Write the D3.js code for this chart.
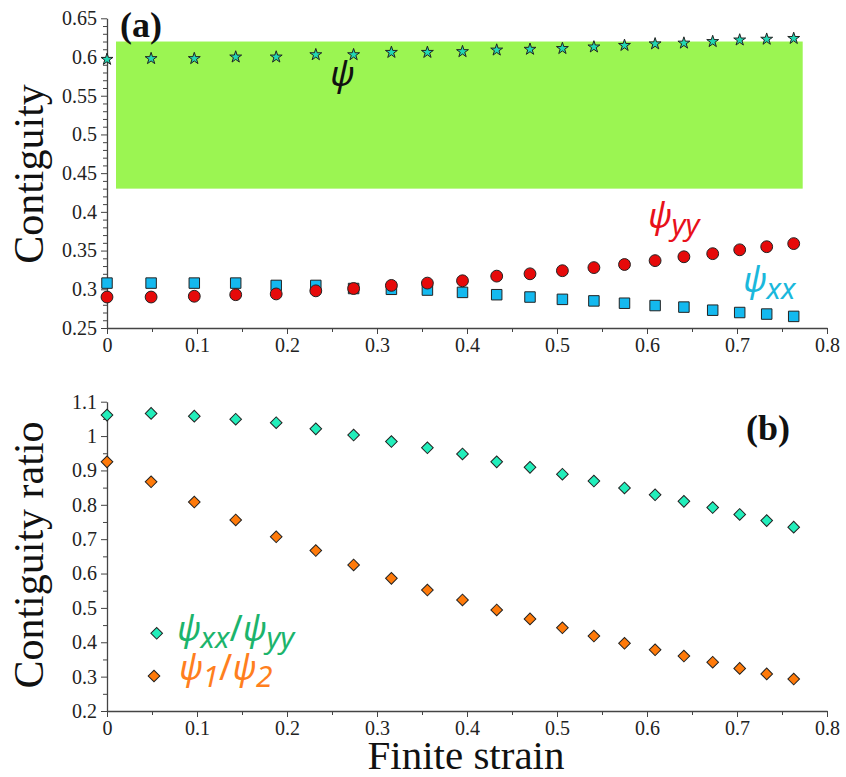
<!DOCTYPE html>
<html><head><meta charset="utf-8">
<script src="https://cdn.jsdelivr.net/npm/d3@7"></script>
<style>body{margin:0;background:#fff}svg{display:block}</style>
</head><body><svg id="c" width="846" height="777"></svg>
<script>
const strain = [0, 0.049, 0.097, 0.143, 0.188, 0.232, 0.274, 0.316, 0.356, 0.395, 0.433, 0.470, 0.506, 0.541, 0.575, 0.609, 0.641, 0.673, 0.703, 0.733, 0.763];
const psi = [0.597,0.598,0.598,0.600,0.600,0.603,0.603,0.606,0.606,0.607,0.609,0.610,0.611,0.613,0.615,0.617,0.618,0.620,0.622,0.623,0.624];
const psiXX = [0.308,0.308,0.308,0.308,0.305,0.305,0.301,0.300,0.299,0.296,0.293,0.290,0.287,0.285,0.282,0.279,0.277,0.273,0.270,0.268,0.265];
const psiYY = [0.290,0.290,0.291,0.293,0.294,0.298,0.301,0.305,0.308,0.311,0.317,0.320,0.324,0.328,0.332,0.337,0.342,0.346,0.351,0.355,0.359];
const ratioXY = [1.061,1.066,1.058,1.049,1.039,1.021,1.003,0.984,0.966,0.948,0.925,0.909,0.889,0.869,0.849,0.829,0.810,0.792,0.772,0.754,0.735];
const ratio12 = [0.925,0.867,0.808,0.756,0.707,0.667,0.625,0.586,0.552,0.523,0.494,0.468,0.442,0.418,0.397,0.378,0.360,0.342,0.324,0.308,0.293];
const band = {x0: 0.01, x1: 0.773, y0: 0.43, y1: 0.62};
const xTicks = [0,0.1,0.2,0.3,0.4,0.5,0.6,0.7,0.8];
const yTicksA = [0.25,0.3,0.35,0.4,0.45,0.5,0.55,0.6,0.65];
const yTicksB = [0.2,0.3,0.4,0.5,0.6,0.7,0.8,0.9,1,1.1];

const svg = d3.select("#c");
const x = d3.scaleLinear().domain([0,0.8]).range([107,827]);
const yA = d3.scaleLinear().domain([0.25,0.65]).range([328,18.3]);
const yB = d3.scaleLinear().domain([0.2,1.1]).range([711,401.7]);
const tickFont = "'Liberation Serif', 'Times New Roman', serif";
const fmt = v => String(+v.toFixed(2));

function axes(y, yTicks, yMinor, baseY) {
  const gx = svg.append("g").attr("transform",`translate(0,${baseY})`)
    .call(d3.axisBottom(x).tickValues(d3.range(0.05,0.8,0.1)).tickSize(4).tickFormat(""));
  gx.select(".domain").remove();
  gx.selectAll("line").attr("stroke","#444");
  const gxm = svg.append("g").attr("transform",`translate(0,${baseY})`)
    .call(d3.axisBottom(x).tickValues(xTicks).tickSize(6).tickSizeOuter(0).tickPadding(4).tickFormat(fmt));
  gxm.attr("font-family",tickFont).attr("font-size",20);
  gxm.select(".domain").attr("stroke","#444").attr("stroke-width",1.3);
  gxm.selectAll("line").attr("stroke","#444");
  gxm.selectAll("text").attr("fill","#222");
  const gy = svg.append("g").attr("transform",`translate(107,0)`)
    .call(d3.axisLeft(y).tickValues(yMinor).tickSize(4).tickFormat(""));
  gy.select(".domain").remove();
  gy.selectAll("line").attr("stroke","#444");
  const gym = svg.append("g").attr("transform",`translate(107,0)`)
    .call(d3.axisLeft(y).tickValues(yTicks).tickSize(6).tickSizeOuter(0).tickPadding(4).tickFormat(fmt));
  gym.attr("font-family",tickFont).attr("font-size",20);
  gym.select(".domain").attr("stroke","#444").attr("stroke-width",1.3);
  gym.selectAll("line").attr("stroke","#444");
  gym.selectAll("text").attr("fill","#222");
}

// Panel (a) band
svg.append("rect").attr("x",x(band.x0)).attr("y",yA(band.y1))
  .attr("width",x(band.x1)-x(band.x0)).attr("height",yA(band.y0)-yA(band.y1))
  .attr("fill","#9bf552");
axes(yA, yTicksA, d3.range(0.26,0.65,0.01).filter(v=>Math.abs(v*20-Math.round(v*20))>0.01), 328);
axes(yB, yTicksB, d3.range(0.25,1.1,0.1), 711);

const sym = (type,size) => d3.symbol().type(type).size(size)();
function pts(vals, y, type, size, fill, rot) {
  svg.append("g").selectAll("path").data(vals).join("path")
    .attr("d", sym(type,size))
    .attr("transform",(d,i)=>`translate(${x(strain[i])},${y(d)})${rot?" rotate(45)":""}`)
    .attr("fill",fill).attr("stroke","#222").attr("stroke-width",1);
}
pts(psiXX, yA, d3.symbolSquare, 110, "#14b9ef");
pts(psiYY, yA, d3.symbolCircle, 110, "#e60a0a");
pts(psi, yA, d3.symbolStar, 44, "#22d8b4");
pts(ratioXY, yB, d3.symbolSquare, 68, "#22eebb", true);
pts(ratio12, yB, d3.symbolSquare, 68, "#ff7a0a", true);

const gf = "'Noto Sans', 'Open Sans', sans-serif";
function greek(xp, yp, color, parts, size) {
  const t = svg.append("text").attr("x",xp).attr("y",yp).attr("font-family",gf)
    .attr("font-style","italic").attr("font-size",size).attr("fill",color);
  parts.forEach(p => {
    const s = t.append("tspan").text(p[0]);
    if (p[1]==="sub") s.attr("font-size",size*0.88).attr("dy",size*0.2);
    if (p[1]==="up") s.attr("font-size",size*1.05).attr("dy",-size*0.2).attr("font-style","normal");
  });
}
svg.append("text").attr("x",330).attr("y",86).attr("font-family",gf).attr("font-style","italic")
  .attr("font-size",35).attr("fill","#111").text("ψ");
greek(648, 228, "#e8101a", [["ψ"],["yy","sub"]], 34);
greek(743, 292, "#1ab8dc", [["ψ"],["xx","sub"]], 34);

// legend
svg.append("path").attr("d",sym(d3.symbolSquare,68)).attr("transform",`translate(156.7,633.3) rotate(45)`)
  .attr("fill","#22eebb").attr("stroke","#222");
svg.append("path").attr("d",sym(d3.symbolSquare,68)).attr("transform",`translate(154,676) rotate(45)`)
  .attr("fill","#ff7a0a").attr("stroke","#222");
greek(177, 641, "#1cb46c", [["ψ"],["xx","sub"],["/","up"],["ψ"],["yy","sub"]], 34);
greek(179, 680, "#ff7f1e", [["ψ"],["1","sub"],["/","up"],["ψ"],["2","sub"]], 34);

// panel labels
svg.append("text").attr("x",120).attr("y",37).attr("font-family",tickFont).attr("font-weight","bold")
  .attr("font-size",36).attr("fill","#111").text("(a)");
svg.append("text").attr("x",746).attr("y",440).attr("font-family",tickFont).attr("font-weight","bold")
  .attr("font-size",36).attr("fill","#111").text("(b)");

// axis titles
svg.append("text").attr("transform","translate(43,174) rotate(-90)").attr("text-anchor","middle")
  .attr("font-family",tickFont).attr("font-size",42).attr("fill","#111").text("Contiguity");
svg.append("text").attr("transform","translate(43,555) rotate(-90)").attr("text-anchor","middle")
  .attr("font-family",tickFont).attr("font-size",42).attr("fill","#111").text("Contiguity ratio");
svg.append("text").attr("x",466).attr("y",769).attr("text-anchor","middle")
  .attr("font-family",tickFont).attr("font-size",41).attr("fill","#111").text("Finite strain");
</script></body></html>
